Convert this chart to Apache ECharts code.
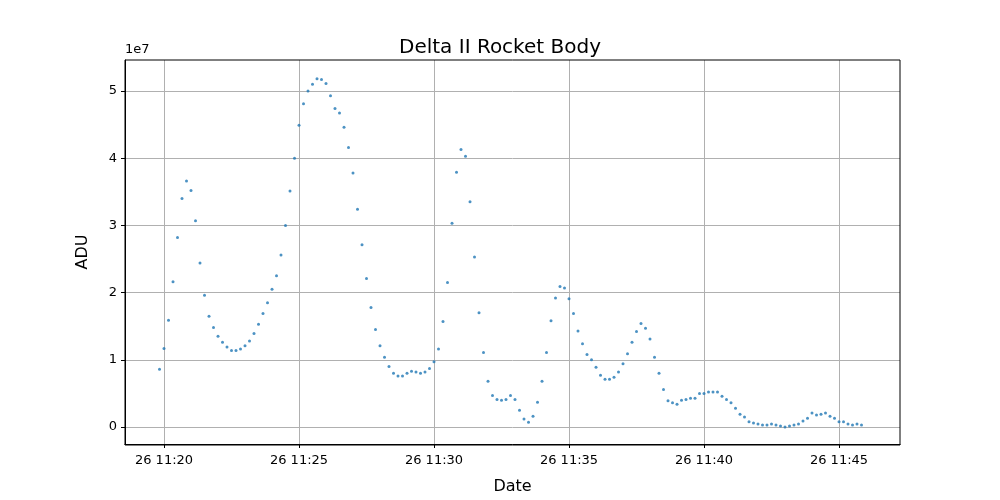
<!DOCTYPE html>
<html><head><meta charset="utf-8">
<script src="https://cdn.jsdelivr.net/npm/echarts@6/dist/echarts.min.js"></script>
<style>html,body{margin:0;padding:0;background:#fff}#c{width:1000px;height:500px}</style>
</head><body><div id="c"></div>
<script>
// seconds relative to 26 11:20:00
const startSeconds = -10;
const stepSeconds = 10;
// ADU values in units of 1e6
const aduMillions = [
8.6,11.7,15.9,21.6,28.2,34.0,36.6,35.2,30.7,24.4,19.6,16.5,14.8,13.5,12.6,11.9,11.4,11.4,11.6,12.1,
12.8,13.9,15.3,16.9,18.5,20.5,22.5,25.6,30.0,35.1,40.0,44.9,48.1,50.0,51.0,51.8,51.7,51.1,49.3,47.4,
46.7,44.6,41.6,37.8,32.4,27.1,22.1,17.8,14.5,12.1,10.4,9.0,8.0,7.6,7.6,8.0,8.3,8.2,8.0,8.2,
8.7,9.7,11.6,15.7,21.5,30.3,37.9,41.3,40.3,33.5,25.3,17.0,11.1,6.8,4.7,4.1,4.0,4.1,4.7,4.1,
2.5,1.2,0.7,1.6,3.7,6.8,11.1,15.8,19.2,20.9,20.7,19.1,16.9,14.3,12.4,10.8,10.0,8.9,7.7,7.1,
7.1,7.4,8.2,9.4,10.9,12.6,14.2,15.4,14.7,13.1,10.4,8.0,5.6,3.9,3.6,3.4,4.0,4.1,4.3,4.3,
5.0,5.0,5.2,5.2,5.2,4.6,4.1,3.6,2.8,1.9,1.5,0.8,0.6,0.45,0.3,0.3,0.45,0.3,0.15,0.0,
0.15,0.3,0.45,0.9,1.3,2.1,1.8,1.9,2.1,1.6,1.3,0.8,0.8,0.45,0.3,0.45,0.3
];
const xTickSeconds = [0,300,600,900,1200,1500];
const xTickLabels = ['26 11:20','26 11:25','26 11:30','26 11:35','26 11:40','26 11:45'];
const yTicks = [0,1e7,2e7,3e7,4e7,5e7];
const data = aduMillions.map((v,i)=>[startSeconds + i*stepSeconds, v*1e6]);
const font = 'DejaVu Sans';
const chart = echarts.init(document.getElementById('c'));
chart.setOption({
  animation:false,
  title:{text:'Delta II Rocket Body',left:'center',top:33,textStyle:{fontFamily:font,fontSize:20,fontWeight:'normal',color:'#000'}},
  grid:{left:125,right:100,top:60,bottom:55},
  xAxis:{type:'value',min:-39/27*60,max:736/27*60,
    name:'Date',nameLocation:'middle',nameGap:35,nameTextStyle:{fontFamily:font,fontSize:16,color:'#000'},
    axisLine:{onZero:false,lineStyle:{color:'#000'}},
    axisTick:{length:4,lineStyle:{color:'#000'},customValues:xTickSeconds},
    axisLabel:{fontFamily:font,fontSize:13,color:'#000',margin:10,customValues:xTickSeconds,
      formatter:v=>xTickLabels[xTickSeconds.indexOf(Math.round(v))]||''},
    splitLine:{show:true,lineStyle:{color:'#b0b0b0',width:1}}},
  yAxis:{type:'value',min:-2.52e6,max:5.46e7,
    name:'ADU',nameLocation:'middle',nameGap:34,nameTextStyle:{fontFamily:font,fontSize:16,color:'#000'},
    axisLine:{show:true,onZero:false,lineStyle:{color:'#000'}},
    axisTick:{show:true,length:4,lineStyle:{color:'#000'},customValues:yTicks},
    axisLabel:{fontFamily:font,fontSize:13,color:'#000',customValues:yTicks,
      formatter:v=>String(Math.round(v/1e7))},
    splitLine:{show:true,lineStyle:{color:'#b0b0b0',width:1}}},
  graphic:[{type:'text',left:125,top:43,style:{text:'1e7',font:'13px DejaVu Sans',fill:'#000'}},
    {type:'rect',shape:{x:125,y:60,width:775,height:385},style:{fill:'none',stroke:'#000',lineWidth:1},silent:true,z:100}],
  series:[{type:'scatter',data:data,symbolSize:3,itemStyle:{color:'#1f77b4'}}]
});
</script></body></html>
